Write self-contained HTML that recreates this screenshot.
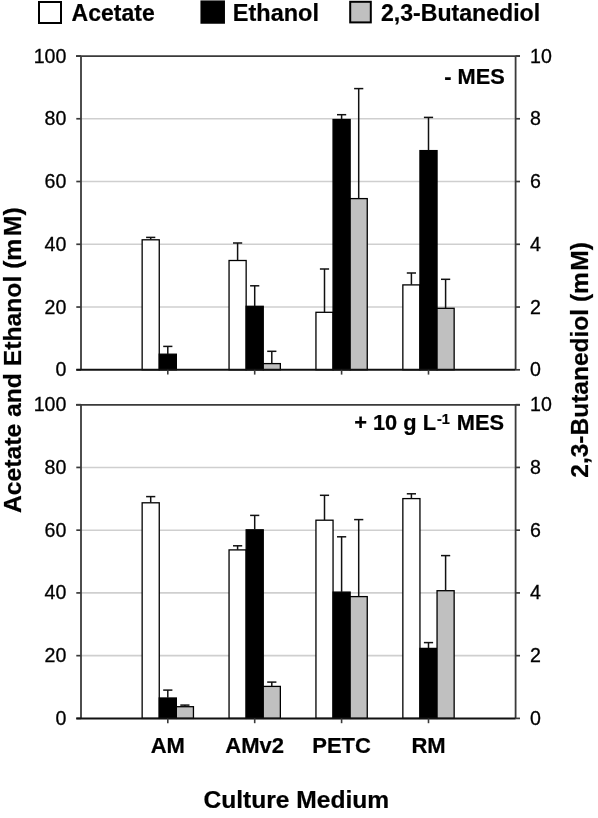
<!DOCTYPE html>
<html><head><meta charset="utf-8"><style>
html,body{margin:0;padding:0;background:#fff;width:598px;height:818px;overflow:hidden}
text{stroke:#000;stroke-width:0.22px}
</style></head><body>
<div style="filter:blur(0.4px)"><svg width="598" height="818" viewBox="0 0 598 818" style="display:block">
<g font-family='"Liberation Sans", sans-serif' fill="#000">
<line x1="81.0" y1="118.76" x2="515.6" y2="118.76" stroke="#cfcfcf" stroke-width="1.6"/>
<line x1="81.0" y1="181.52" x2="515.6" y2="181.52" stroke="#cfcfcf" stroke-width="1.6"/>
<line x1="81.0" y1="244.28" x2="515.6" y2="244.28" stroke="#cfcfcf" stroke-width="1.6"/>
<line x1="81.0" y1="307.04" x2="515.6" y2="307.04" stroke="#cfcfcf" stroke-width="1.6"/>
<rect x="142.15" y="239.80" width="17.10" height="130.00" fill="#ffffff" stroke="#000" stroke-width="1.3"/>
<rect x="159.25" y="354.20" width="17.10" height="15.60" fill="#000000" stroke="#000" stroke-width="1.3"/>
<line x1="150.70" y1="239.60" x2="150.70" y2="237.40" stroke="#111" stroke-width="1.5"/>
<line x1="146.10" y1="237.40" x2="155.30" y2="237.40" stroke="#111" stroke-width="1.5"/>
<line x1="167.80" y1="354.00" x2="167.80" y2="346.40" stroke="#111" stroke-width="1.5"/>
<line x1="163.20" y1="346.40" x2="172.40" y2="346.40" stroke="#111" stroke-width="1.5"/>
<rect x="229.05" y="260.50" width="17.10" height="109.30" fill="#ffffff" stroke="#000" stroke-width="1.3"/>
<rect x="246.15" y="306.30" width="17.10" height="63.50" fill="#000000" stroke="#000" stroke-width="1.3"/>
<rect x="263.25" y="363.60" width="17.10" height="6.20" fill="#c0c0c0" stroke="#000" stroke-width="1.3"/>
<line x1="237.60" y1="260.30" x2="237.60" y2="243.00" stroke="#111" stroke-width="1.5"/>
<line x1="233.00" y1="243.00" x2="242.20" y2="243.00" stroke="#111" stroke-width="1.5"/>
<line x1="254.70" y1="306.10" x2="254.70" y2="285.80" stroke="#111" stroke-width="1.5"/>
<line x1="250.10" y1="285.80" x2="259.30" y2="285.80" stroke="#111" stroke-width="1.5"/>
<line x1="271.80" y1="363.40" x2="271.80" y2="351.30" stroke="#111" stroke-width="1.5"/>
<line x1="267.20" y1="351.30" x2="276.40" y2="351.30" stroke="#111" stroke-width="1.5"/>
<rect x="315.95" y="312.30" width="17.10" height="57.50" fill="#ffffff" stroke="#000" stroke-width="1.3"/>
<rect x="333.05" y="119.50" width="17.10" height="250.30" fill="#000000" stroke="#000" stroke-width="1.3"/>
<rect x="350.15" y="198.60" width="17.10" height="171.20" fill="#c0c0c0" stroke="#000" stroke-width="1.3"/>
<line x1="324.50" y1="312.10" x2="324.50" y2="269.00" stroke="#111" stroke-width="1.5"/>
<line x1="319.90" y1="269.00" x2="329.10" y2="269.00" stroke="#111" stroke-width="1.5"/>
<line x1="341.60" y1="119.30" x2="341.60" y2="114.70" stroke="#111" stroke-width="1.5"/>
<line x1="337.00" y1="114.70" x2="346.20" y2="114.70" stroke="#111" stroke-width="1.5"/>
<line x1="358.70" y1="198.40" x2="358.70" y2="88.60" stroke="#111" stroke-width="1.5"/>
<line x1="354.10" y1="88.60" x2="363.30" y2="88.60" stroke="#111" stroke-width="1.5"/>
<rect x="402.85" y="284.90" width="17.10" height="84.90" fill="#ffffff" stroke="#000" stroke-width="1.3"/>
<rect x="419.95" y="150.60" width="17.10" height="219.20" fill="#000000" stroke="#000" stroke-width="1.3"/>
<rect x="437.05" y="308.30" width="17.10" height="61.50" fill="#c0c0c0" stroke="#000" stroke-width="1.3"/>
<line x1="411.40" y1="284.70" x2="411.40" y2="273.00" stroke="#111" stroke-width="1.5"/>
<line x1="406.80" y1="273.00" x2="416.00" y2="273.00" stroke="#111" stroke-width="1.5"/>
<line x1="428.50" y1="150.40" x2="428.50" y2="117.40" stroke="#111" stroke-width="1.5"/>
<line x1="423.90" y1="117.40" x2="433.10" y2="117.40" stroke="#111" stroke-width="1.5"/>
<line x1="445.60" y1="308.10" x2="445.60" y2="279.30" stroke="#111" stroke-width="1.5"/>
<line x1="441.00" y1="279.30" x2="450.20" y2="279.30" stroke="#111" stroke-width="1.5"/>
<line x1="76" y1="56.20" x2="520" y2="56.20" stroke="#3a3a3a" stroke-width="1.7"/>
<line x1="81.0" y1="56.00" x2="81.0" y2="369.80" stroke="#3a3a3a" stroke-width="1.8"/>
<line x1="515.6" y1="56.00" x2="515.6" y2="369.80" stroke="#3a3a3a" stroke-width="1.8"/>
<line x1="76.3" y1="56.00" x2="81.0" y2="56.00" stroke="#3a3a3a" stroke-width="1.7"/>
<line x1="515.6" y1="56.00" x2="520" y2="56.00" stroke="#3a3a3a" stroke-width="1.7"/>
<line x1="76.3" y1="118.76" x2="81.0" y2="118.76" stroke="#3a3a3a" stroke-width="1.7"/>
<line x1="515.6" y1="118.76" x2="520" y2="118.76" stroke="#3a3a3a" stroke-width="1.7"/>
<line x1="76.3" y1="181.52" x2="81.0" y2="181.52" stroke="#3a3a3a" stroke-width="1.7"/>
<line x1="515.6" y1="181.52" x2="520" y2="181.52" stroke="#3a3a3a" stroke-width="1.7"/>
<line x1="76.3" y1="244.28" x2="81.0" y2="244.28" stroke="#3a3a3a" stroke-width="1.7"/>
<line x1="515.6" y1="244.28" x2="520" y2="244.28" stroke="#3a3a3a" stroke-width="1.7"/>
<line x1="76.3" y1="307.04" x2="81.0" y2="307.04" stroke="#3a3a3a" stroke-width="1.7"/>
<line x1="515.6" y1="307.04" x2="520" y2="307.04" stroke="#3a3a3a" stroke-width="1.7"/>
<line x1="76.3" y1="369.80" x2="81.0" y2="369.80" stroke="#3a3a3a" stroke-width="1.7"/>
<line x1="515.6" y1="369.80" x2="520" y2="369.80" stroke="#3a3a3a" stroke-width="1.7"/>
<line x1="76.3" y1="369.80" x2="515.6" y2="369.80" stroke="#111" stroke-width="2"/>
<line x1="167.8" y1="369.80" x2="167.8" y2="374.60" stroke="#3a3a3a" stroke-width="1.6"/>
<line x1="254.7" y1="369.80" x2="254.7" y2="374.60" stroke="#3a3a3a" stroke-width="1.6"/>
<line x1="341.6" y1="369.80" x2="341.6" y2="374.60" stroke="#3a3a3a" stroke-width="1.6"/>
<line x1="428.5" y1="369.80" x2="428.5" y2="374.60" stroke="#3a3a3a" stroke-width="1.6"/>
<text x="66.4" y="62.50" text-anchor="end" font-size="19.6" style="stroke-width:0.3px">100</text>
<text x="66.4" y="125.26" text-anchor="end" font-size="19.6" style="stroke-width:0.3px">80</text>
<text x="66.4" y="188.02" text-anchor="end" font-size="19.6" style="stroke-width:0.3px">60</text>
<text x="66.4" y="250.78" text-anchor="end" font-size="19.6" style="stroke-width:0.3px">40</text>
<text x="66.4" y="313.54" text-anchor="end" font-size="19.6" style="stroke-width:0.3px">20</text>
<text x="66.4" y="376.30" text-anchor="end" font-size="19.6" style="stroke-width:0.3px">0</text>
<text x="530" y="62.50" font-size="19.6" style="stroke-width:0.3px">10</text>
<text x="530" y="125.26" font-size="19.6" style="stroke-width:0.3px">8</text>
<text x="530" y="188.02" font-size="19.6" style="stroke-width:0.3px">6</text>
<text x="530" y="250.78" font-size="19.6" style="stroke-width:0.3px">4</text>
<text x="530" y="313.54" font-size="19.6" style="stroke-width:0.3px">2</text>
<text x="530" y="376.30" font-size="19.6" style="stroke-width:0.3px">0</text>
<line x1="81.0" y1="467.44" x2="515.6" y2="467.44" stroke="#cfcfcf" stroke-width="1.6"/>
<line x1="81.0" y1="530.18" x2="515.6" y2="530.18" stroke="#cfcfcf" stroke-width="1.6"/>
<line x1="81.0" y1="592.92" x2="515.6" y2="592.92" stroke="#cfcfcf" stroke-width="1.6"/>
<line x1="81.0" y1="655.66" x2="515.6" y2="655.66" stroke="#cfcfcf" stroke-width="1.6"/>
<rect x="142.15" y="502.80" width="17.10" height="215.60" fill="#ffffff" stroke="#000" stroke-width="1.3"/>
<rect x="159.25" y="698.00" width="17.10" height="20.40" fill="#000000" stroke="#000" stroke-width="1.3"/>
<rect x="176.35" y="706.70" width="17.10" height="11.70" fill="#c0c0c0" stroke="#000" stroke-width="1.3"/>
<line x1="150.70" y1="502.60" x2="150.70" y2="496.60" stroke="#111" stroke-width="1.5"/>
<line x1="146.10" y1="496.60" x2="155.30" y2="496.60" stroke="#111" stroke-width="1.5"/>
<line x1="167.80" y1="697.80" x2="167.80" y2="690.10" stroke="#111" stroke-width="1.5"/>
<line x1="163.20" y1="690.10" x2="172.40" y2="690.10" stroke="#111" stroke-width="1.5"/>
<line x1="184.90" y1="706.50" x2="184.90" y2="705.10" stroke="#111" stroke-width="1.5"/>
<line x1="180.30" y1="705.10" x2="189.50" y2="705.10" stroke="#111" stroke-width="1.5"/>
<rect x="229.05" y="549.90" width="17.10" height="168.50" fill="#ffffff" stroke="#000" stroke-width="1.3"/>
<rect x="246.15" y="529.80" width="17.10" height="188.60" fill="#000000" stroke="#000" stroke-width="1.3"/>
<rect x="263.25" y="686.40" width="17.10" height="32.00" fill="#c0c0c0" stroke="#000" stroke-width="1.3"/>
<line x1="237.60" y1="549.70" x2="237.60" y2="545.80" stroke="#111" stroke-width="1.5"/>
<line x1="233.00" y1="545.80" x2="242.20" y2="545.80" stroke="#111" stroke-width="1.5"/>
<line x1="254.70" y1="529.60" x2="254.70" y2="515.40" stroke="#111" stroke-width="1.5"/>
<line x1="250.10" y1="515.40" x2="259.30" y2="515.40" stroke="#111" stroke-width="1.5"/>
<line x1="271.80" y1="686.20" x2="271.80" y2="682.10" stroke="#111" stroke-width="1.5"/>
<line x1="267.20" y1="682.10" x2="276.40" y2="682.10" stroke="#111" stroke-width="1.5"/>
<rect x="315.95" y="520.20" width="17.10" height="198.20" fill="#ffffff" stroke="#000" stroke-width="1.3"/>
<rect x="333.05" y="592.10" width="17.10" height="126.30" fill="#000000" stroke="#000" stroke-width="1.3"/>
<rect x="350.15" y="596.60" width="17.10" height="121.80" fill="#c0c0c0" stroke="#000" stroke-width="1.3"/>
<line x1="324.50" y1="520.00" x2="324.50" y2="495.30" stroke="#111" stroke-width="1.5"/>
<line x1="319.90" y1="495.30" x2="329.10" y2="495.30" stroke="#111" stroke-width="1.5"/>
<line x1="341.60" y1="591.90" x2="341.60" y2="536.80" stroke="#111" stroke-width="1.5"/>
<line x1="337.00" y1="536.80" x2="346.20" y2="536.80" stroke="#111" stroke-width="1.5"/>
<line x1="358.70" y1="596.40" x2="358.70" y2="519.60" stroke="#111" stroke-width="1.5"/>
<line x1="354.10" y1="519.60" x2="363.30" y2="519.60" stroke="#111" stroke-width="1.5"/>
<rect x="402.85" y="498.60" width="17.10" height="219.80" fill="#ffffff" stroke="#000" stroke-width="1.3"/>
<rect x="419.95" y="648.40" width="17.10" height="70.00" fill="#000000" stroke="#000" stroke-width="1.3"/>
<rect x="437.05" y="590.70" width="17.10" height="127.70" fill="#c0c0c0" stroke="#000" stroke-width="1.3"/>
<line x1="411.40" y1="498.40" x2="411.40" y2="493.80" stroke="#111" stroke-width="1.5"/>
<line x1="406.80" y1="493.80" x2="416.00" y2="493.80" stroke="#111" stroke-width="1.5"/>
<line x1="428.50" y1="648.20" x2="428.50" y2="642.60" stroke="#111" stroke-width="1.5"/>
<line x1="423.90" y1="642.60" x2="433.10" y2="642.60" stroke="#111" stroke-width="1.5"/>
<line x1="445.60" y1="590.50" x2="445.60" y2="555.60" stroke="#111" stroke-width="1.5"/>
<line x1="441.00" y1="555.60" x2="450.20" y2="555.60" stroke="#111" stroke-width="1.5"/>
<line x1="76" y1="404.90" x2="520" y2="404.90" stroke="#3a3a3a" stroke-width="1.7"/>
<line x1="81.0" y1="404.70" x2="81.0" y2="718.40" stroke="#3a3a3a" stroke-width="1.8"/>
<line x1="515.6" y1="404.70" x2="515.6" y2="718.40" stroke="#3a3a3a" stroke-width="1.8"/>
<line x1="76.3" y1="404.70" x2="81.0" y2="404.70" stroke="#3a3a3a" stroke-width="1.7"/>
<line x1="515.6" y1="404.70" x2="520" y2="404.70" stroke="#3a3a3a" stroke-width="1.7"/>
<line x1="76.3" y1="467.44" x2="81.0" y2="467.44" stroke="#3a3a3a" stroke-width="1.7"/>
<line x1="515.6" y1="467.44" x2="520" y2="467.44" stroke="#3a3a3a" stroke-width="1.7"/>
<line x1="76.3" y1="530.18" x2="81.0" y2="530.18" stroke="#3a3a3a" stroke-width="1.7"/>
<line x1="515.6" y1="530.18" x2="520" y2="530.18" stroke="#3a3a3a" stroke-width="1.7"/>
<line x1="76.3" y1="592.92" x2="81.0" y2="592.92" stroke="#3a3a3a" stroke-width="1.7"/>
<line x1="515.6" y1="592.92" x2="520" y2="592.92" stroke="#3a3a3a" stroke-width="1.7"/>
<line x1="76.3" y1="655.66" x2="81.0" y2="655.66" stroke="#3a3a3a" stroke-width="1.7"/>
<line x1="515.6" y1="655.66" x2="520" y2="655.66" stroke="#3a3a3a" stroke-width="1.7"/>
<line x1="76.3" y1="718.40" x2="81.0" y2="718.40" stroke="#3a3a3a" stroke-width="1.7"/>
<line x1="515.6" y1="718.40" x2="520" y2="718.40" stroke="#3a3a3a" stroke-width="1.7"/>
<line x1="76.3" y1="718.40" x2="515.6" y2="718.40" stroke="#111" stroke-width="2"/>
<line x1="167.8" y1="718.40" x2="167.8" y2="723.20" stroke="#3a3a3a" stroke-width="1.6"/>
<line x1="254.7" y1="718.40" x2="254.7" y2="723.20" stroke="#3a3a3a" stroke-width="1.6"/>
<line x1="341.6" y1="718.40" x2="341.6" y2="723.20" stroke="#3a3a3a" stroke-width="1.6"/>
<line x1="428.5" y1="718.40" x2="428.5" y2="723.20" stroke="#3a3a3a" stroke-width="1.6"/>
<text x="66.4" y="411.20" text-anchor="end" font-size="19.6" style="stroke-width:0.3px">100</text>
<text x="66.4" y="473.94" text-anchor="end" font-size="19.6" style="stroke-width:0.3px">80</text>
<text x="66.4" y="536.68" text-anchor="end" font-size="19.6" style="stroke-width:0.3px">60</text>
<text x="66.4" y="599.42" text-anchor="end" font-size="19.6" style="stroke-width:0.3px">40</text>
<text x="66.4" y="662.16" text-anchor="end" font-size="19.6" style="stroke-width:0.3px">20</text>
<text x="66.4" y="724.90" text-anchor="end" font-size="19.6" style="stroke-width:0.3px">0</text>
<text x="530" y="411.20" font-size="19.6" style="stroke-width:0.3px">10</text>
<text x="530" y="473.94" font-size="19.6" style="stroke-width:0.3px">8</text>
<text x="530" y="536.68" font-size="19.6" style="stroke-width:0.3px">6</text>
<text x="530" y="599.42" font-size="19.6" style="stroke-width:0.3px">4</text>
<text x="530" y="662.16" font-size="19.6" style="stroke-width:0.3px">2</text>
<text x="530" y="724.90" font-size="19.6" style="stroke-width:0.3px">0</text>
<rect x="39" y="2" width="22" height="21" fill="#fff" stroke="#000" stroke-width="2"/>
<text x="71.6" y="21" font-size="23" font-weight="bold">Acetate</text>
<rect x="201.2" y="1.2" width="23" height="21.8" fill="#000" stroke="#000" stroke-width="1.5"/>
<text x="232.8" y="21" font-size="23.5" font-weight="bold">Ethanol</text>
<rect x="350.2" y="1.8" width="20.6" height="20.6" fill="#c0c0c0" stroke="#000" stroke-width="2"/>
<text x="381" y="21" font-size="23.1" font-weight="bold">2,3-Butanediol</text>
<text x="504.8" y="83.8" text-anchor="end" font-size="21.8" font-weight="bold">- MES</text>
<text x="354.2" y="429.7" font-size="21.8" font-weight="bold">+ 10 g L<tspan font-size="14.5" dx="1" dy="-6">-1</tspan><tspan dx="0.8" dy="6"> MES</tspan></text>
<text x="167.8" y="752.9" text-anchor="middle" font-size="22" font-weight="bold">AM</text>
<text x="254.7" y="752.9" text-anchor="middle" font-size="22" font-weight="bold">AMv2</text>
<text x="341.6" y="752.9" text-anchor="middle" font-size="22" font-weight="bold">PETC</text>
<text x="428.5" y="752.9" text-anchor="middle" font-size="22" font-weight="bold">RM</text>
<text x="296.3" y="808.2" text-anchor="middle" font-size="24.6" font-weight="bold">Culture Medium</text>
<text transform="translate(21.3,360.2) rotate(-90)" text-anchor="middle" font-size="24.7" font-weight="bold">Acetate and Ethanol (m<tspan dx="2.5">M</tspan>)</text>
<text transform="translate(588.4,359.9) rotate(-90)" text-anchor="middle" font-size="24.5" font-weight="bold">2,3-Butanediol (m<tspan dx="1.5">M</tspan>)</text>
</g></svg>
</div></body></html>
